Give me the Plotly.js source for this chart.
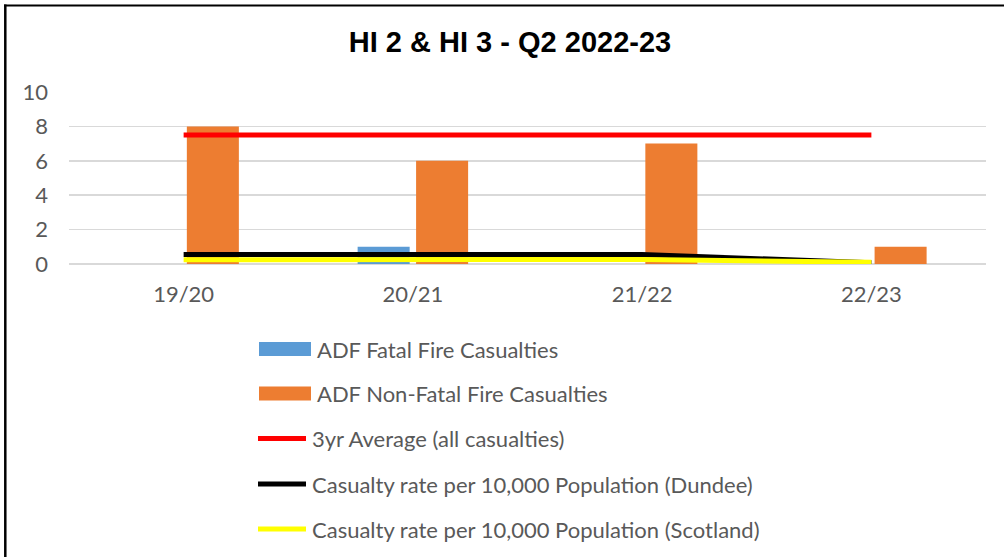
<!DOCTYPE html>
<html>
<head>
<meta charset="utf-8">
<script src="https://cdn.plot.ly/plotly-3.0.1.min.js"></script>
<style>html,body{margin:0;padding:0;background:#fff;}#chart{width:1004px;height:557px;}</style>
</head>
<body>
<div id="chart"></div>
<script>
const categories = ['19/20', '20/21', '21/22', '22/23'];
const fatal = [0, 1, 0, 0];
const nonFatal = [8, 6, 7, 1];
const avg3yr = [7.5, 7.5, 7.5, 7.5];
const rateDundee = [0.55, 0.54, 0.55, 0.07];
const rateScotland = [0.25, 0.24, 0.26, 0.1];
const seriesNames = [
  'ADF Fatal Fire Casualties',
  'ADF Non-Fatal Fire Casualties',
  '3yr Average (all casualties)',
  'Casualty rate per 10,000 Population (Dundee)',
  'Casualty rate per 10,000 Population (Scotland)'
];
const colors = ['#5b9bd5', '#ed7d31', '#ff0000', '#000000', '#ffff00'];

const W = 1004, H = 557;
const L = 69, R = 18, T = 92, B = 293;
const pw = W - L - R, ph = H - T - B;
const px = x => (x - L) / pw;
const py = y => (H - B - y) / ph;

const traces = [
  {type: 'bar', x: categories, y: fatal, name: seriesNames[0], marker: {color: colors[0]}},
  {type: 'bar', x: categories, y: nonFatal, name: seriesNames[1], marker: {color: colors[1]}},
  {type: 'scatter', mode: 'lines', x: categories, y: rateDundee, name: seriesNames[3], line: {color: colors[3], width: 5}},
  {type: 'scatter', mode: 'lines', x: categories, y: rateScotland, name: seriesNames[4], line: {color: colors[4], width: 5}},
  {type: 'scatter', mode: 'lines', x: categories, y: avg3yr, name: seriesNames[2], line: {color: colors[2], width: 5}}
];

const font = {family: 'Lato, "Open Sans", sans-serif', size: 22, color: '#595959'};

// custom legend (paper coordinates)
const legendY = [349, 393.5, 438.5, 484, 529];
const shapes = [];
const annotations = [];
for (let i = 0; i < 5; i++) {
  const cy = legendY[i];
  if (i < 2) {
    shapes.push({type: 'rect', xref: 'paper', yref: 'paper', x0: px(259), x1: px(311), y0: py(cy - 7), y1: py(cy + 7), fillcolor: colors[i], line: {width: 0}});
  } else {
    shapes.push({type: 'line', xref: 'paper', yref: 'paper', x0: px(258), x1: px(306), y0: py(cy), y1: py(cy), line: {color: colors[i], width: 5}});
  }
  annotations.push({xref: 'paper', yref: 'paper', x: px(i < 2 ? 315 : 310), y: py(cy), xanchor: 'left', yanchor: 'middle', showarrow: false, text: seriesNames[i], font: font});
}
// frame lines (top and left)
shapes.push({type: 'line', xref: 'paper', yref: 'paper', x0: px(4), x1: px(1004), y0: py(5.5), y1: py(5.5), line: {color: '#000', width: 2}});
shapes.push({type: 'line', xref: 'paper', yref: 'paper', x0: px(5.3), x1: px(5.3), y0: py(4.5), y1: py(557), line: {color: '#000', width: 2.5}});

const layout = {
  width: W, height: H,
  margin: {l: L, r: R, t: T, b: B, pad: 0},
  paper_bgcolor: '#fff', plot_bgcolor: '#fff',
  showlegend: false,
  barmode: 'group', bargap: 0.49, bargroupgap: 0.11,
  title: {text: '<b>HI 2 & HI 3 - Q2 2022-23</b>', x: 510 / W, xanchor: 'center', y: 1 - 42 / H, yanchor: 'middle',
    font: {family: '"Liberation Sans", Arial, sans-serif', size: 29, color: '#000'}},
  xaxis: {type: 'category', categoryorder: 'array', categoryarray: categories, range: [-0.5, 3.5],
    showgrid: false, zeroline: false, showline: false, ticks: '', tickfont: font, ticklabelstandoff: 15, fixedrange: true},
  yaxis: {range: [0, 10], dtick: 2, tick0: 0, showgrid: true, gridcolor: '#d9d9d9', gridwidth: 1.5,
    zeroline: true, zerolinecolor: '#d9d9d9', zerolinewidth: 1.5, showline: false, ticks: '', tickfont: font, ticklabelstandoff: 20, fixedrange: true},
  shapes: shapes,
  annotations: annotations
};

Plotly.newPlot('chart', traces, layout, {staticPlot: true, displayModeBar: false});
</script>
</body>
</html>
